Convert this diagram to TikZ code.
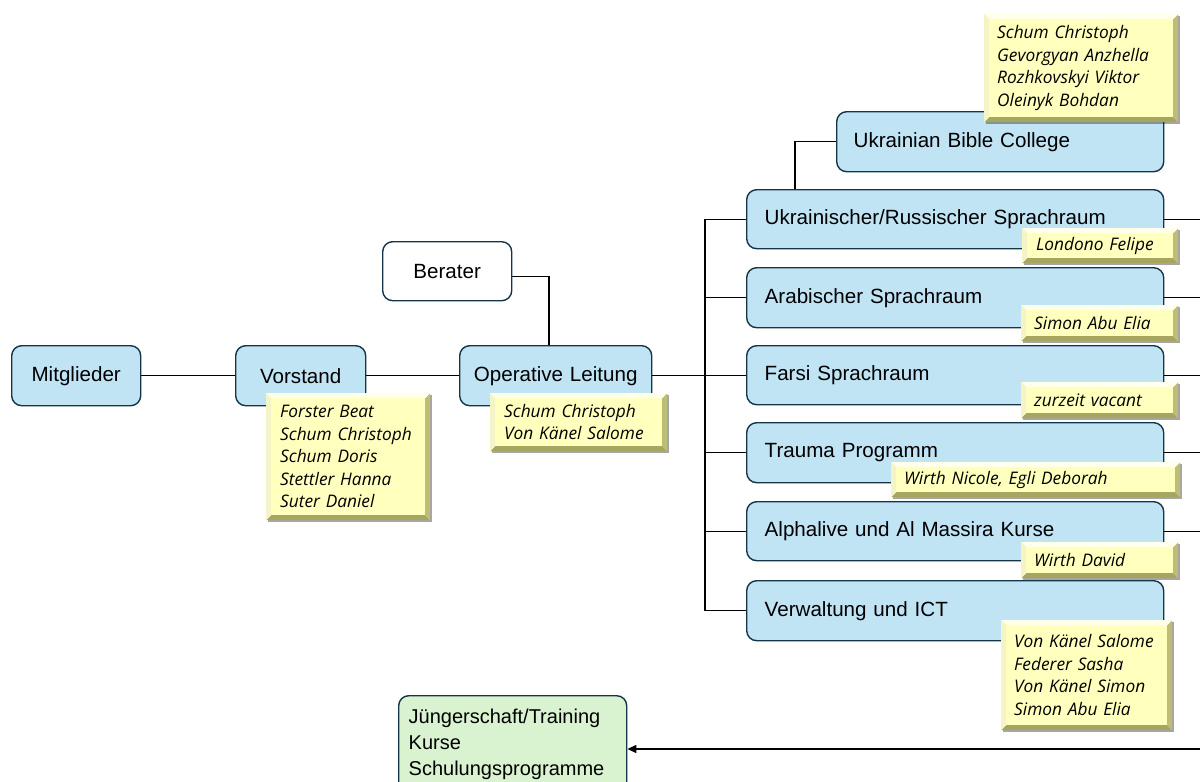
\documentclass[tikz,border=0pt]{standalone}
\usepackage{fontspec}
\setmainfont{Liberation Sans}
\newfontfamily\hand{Open Sans}
\usetikzlibrary{arrows.meta,shadows}
\definecolor{bfill}{HTML}{C1E4F5}
\definecolor{bdraw}{HTML}{163447}
\definecolor{gfill}{HTML}{D9F2D0}
\definecolor{yface}{HTML}{FFFFBE}
\definecolor{ytop}{HTML}{FFFFEA}
\definecolor{yleft}{HTML}{F4F4C6}
\definecolor{ybot}{HTML}{A6A65E}
\definecolor{yright}{HTML}{BDBD78}
\newcommand\boxat[8]{%
  \pgfmathsetmacro\bw{#5-#3}\pgfmathsetmacro\bh{#6-#4}\pgfmathsetmacro\tw{#5-#3-2*#7}%
  \node[#1, anchor=north west, minimum width=\bw pt, minimum height=\bh pt,
        inner xsep=#7pt, inner ysep=0pt, text width=\tw pt] (#2) at (#3,#4) {#8};}
\tikzset{
  bluebox/.style={draw=bdraw, line width=1.4pt, fill=bfill, rounded corners=10pt,
    font=\fontsize{20.6}{24}\selectfont, align=left},
  whitebox/.style={bluebox, fill=white},
  greenbox/.style={bluebox, fill=gfill, font=\fontsize{20}{26}\selectfont},
  conn/.style={line width=1.4pt, black},
  namebox/.style={fill=yface, align=left, font=\hand\itshape\fontsize{17.3}{22.5}\selectfont,
    drop shadow={shadow xshift=1.5pt, shadow yshift=-1.5pt, opacity=0.35, fill=black},
    path picture={
      \fill[ybot] (path picture bounding box.south west) -- (path picture bounding box.south east)
        -- ([xshift=-5pt,yshift=5pt]path picture bounding box.south east)
        -- ([xshift=5pt,yshift=5pt]path picture bounding box.south west) -- cycle;
      \fill[yright] (path picture bounding box.south east) -- (path picture bounding box.north east)
        -- ([xshift=-5pt,yshift=-5pt]path picture bounding box.north east)
        -- ([xshift=-5pt,yshift=5pt]path picture bounding box.south east) -- cycle;
      \fill[ytop] (path picture bounding box.north west) -- (path picture bounding box.north east)
        -- ([xshift=-5pt,yshift=-5pt]path picture bounding box.north east)
        -- ([xshift=5pt,yshift=-5pt]path picture bounding box.north west) -- cycle;
      \fill[yleft] (path picture bounding box.north west) -- (path picture bounding box.south west)
        -- ([xshift=5pt,yshift=5pt]path picture bounding box.south west)
        -- ([xshift=5pt,yshift=-5pt]path picture bounding box.north west) -- cycle;
    }}
}
\begin{document}
\begin{tikzpicture}[x=1pt,y=-1pt]
\useasboundingbox (0,0) rectangle (1200,782);
\clip (0,0) rectangle (1200,782);
\fill[white] (0,0) rectangle (1200,782);
% main boxes
\boxat{bluebox,align=center}{mitg}{11}{345}{140}{405}{0}{Mitglieder}
\boxat{bluebox,align=center}{vor}{235}{345}{365}{405}{0}{Vorstand}
\boxat{whitebox,align=center}{ber}{382}{241}{511}{300}{0}{Berater}
\boxat{bluebox,align=center}{ol}{459}{345}{651}{405}{0}{Operative Leitung}
\boxat{bluebox}{ubc}{836}{111}{1163}{171}{17}{Ukrainian Bible College}
\boxat{bluebox}{ukr}{746}{189}{1163}{248}{18}{Ukrainischer/Russischer Sprachraum}
\boxat{bluebox}{ara}{746}{267}{1163}{327}{18}{Arabischer Sprachraum}
\boxat{bluebox}{far}{746}{345}{1163}{404}{18}{Farsi Sprachraum}
\boxat{bluebox}{tra}{746}{422}{1163}{482}{18}{Trauma Programm}
\boxat{bluebox}{alp}{746}{501}{1163}{560}{18}{Alphalive und Al Massira Kurse}
\boxat{bluebox}{ver}{746}{580}{1163}{640}{18}{Verwaltung und ICT}
\boxat{greenbox}{grn}{398}{695}{626}{792}{10}{Jüngerschaft/Training\\Kurse\\Schulungsprogramme}
% connectors
\draw[conn] (mitg) -- (vor);
\draw[conn] (vor) -- (ol);
\draw[conn] ([yshift=-5pt]ber.east) -| ([xshift=90pt]ol.north west);
\coordinate (bus) at (705,0);
\draw[conn] (ol.east) -- (ol.east -| bus);
\draw[conn] (ukr.west -| bus) -- (ver.west -| bus);
\foreach \n in {ukr,ara,far,tra,alp,ver} \draw[conn] (\n.west -| bus) -- (\n.west);
\draw[conn] (ubc.west) -| ([xshift=49pt]ukr.north west);
\coordinate (edge) at (1200,0);
\foreach \n in {ukr,ara,far,tra,alp} \draw[conn] (\n.east) -- (\n.east -| edge);
\coordinate (arrs) at (1200,749);
\draw[conn,-{Triangle[length=9pt,width=8pt]}] (arrs) -- (arrs -| grn.east);
% name boxes
\boxat{namebox}{nvor}{266}{393}{430}{520}{14}{Forster Beat\\Schum Christoph\\Schum Doris\\Stettler Hanna\\Suter Daniel}
\boxat{namebox}{nol}{490}{393}{667}{451}{14}{Schum Christoph\\Von Känel Salome}
\boxat{namebox}{nubc}{984}{14}{1178}{122}{13}{Schum Christoph\\Gevorgyan Anzhella\\Rozhkovskyi Viktor\\Oleinyk Bohdan}
\boxat{namebox}{nukr}{1022}{228}{1178}{263}{14}{Londono Felipe}
\boxat{namebox}{nara}{1021}{305}{1178}{341}{13}{Simon Abu Elia}
\boxat{namebox}{nfar}{1021}{382}{1178}{418}{13}{zurzeit vacant}
\boxat{namebox}{ntra}{891}{462}{1180}{497}{13}{Wirth Nicole, Egli Deborah}
\boxat{namebox}{nalp}{1021}{542}{1178}{578}{13}{Wirth David}
\boxat{namebox}{nver}{1001}{620}{1172}{730}{13}{Von Känel Salome\\Federer Sasha\\Von Känel Simon\\Simon Abu Elia}
\end{tikzpicture}
\end{document}
